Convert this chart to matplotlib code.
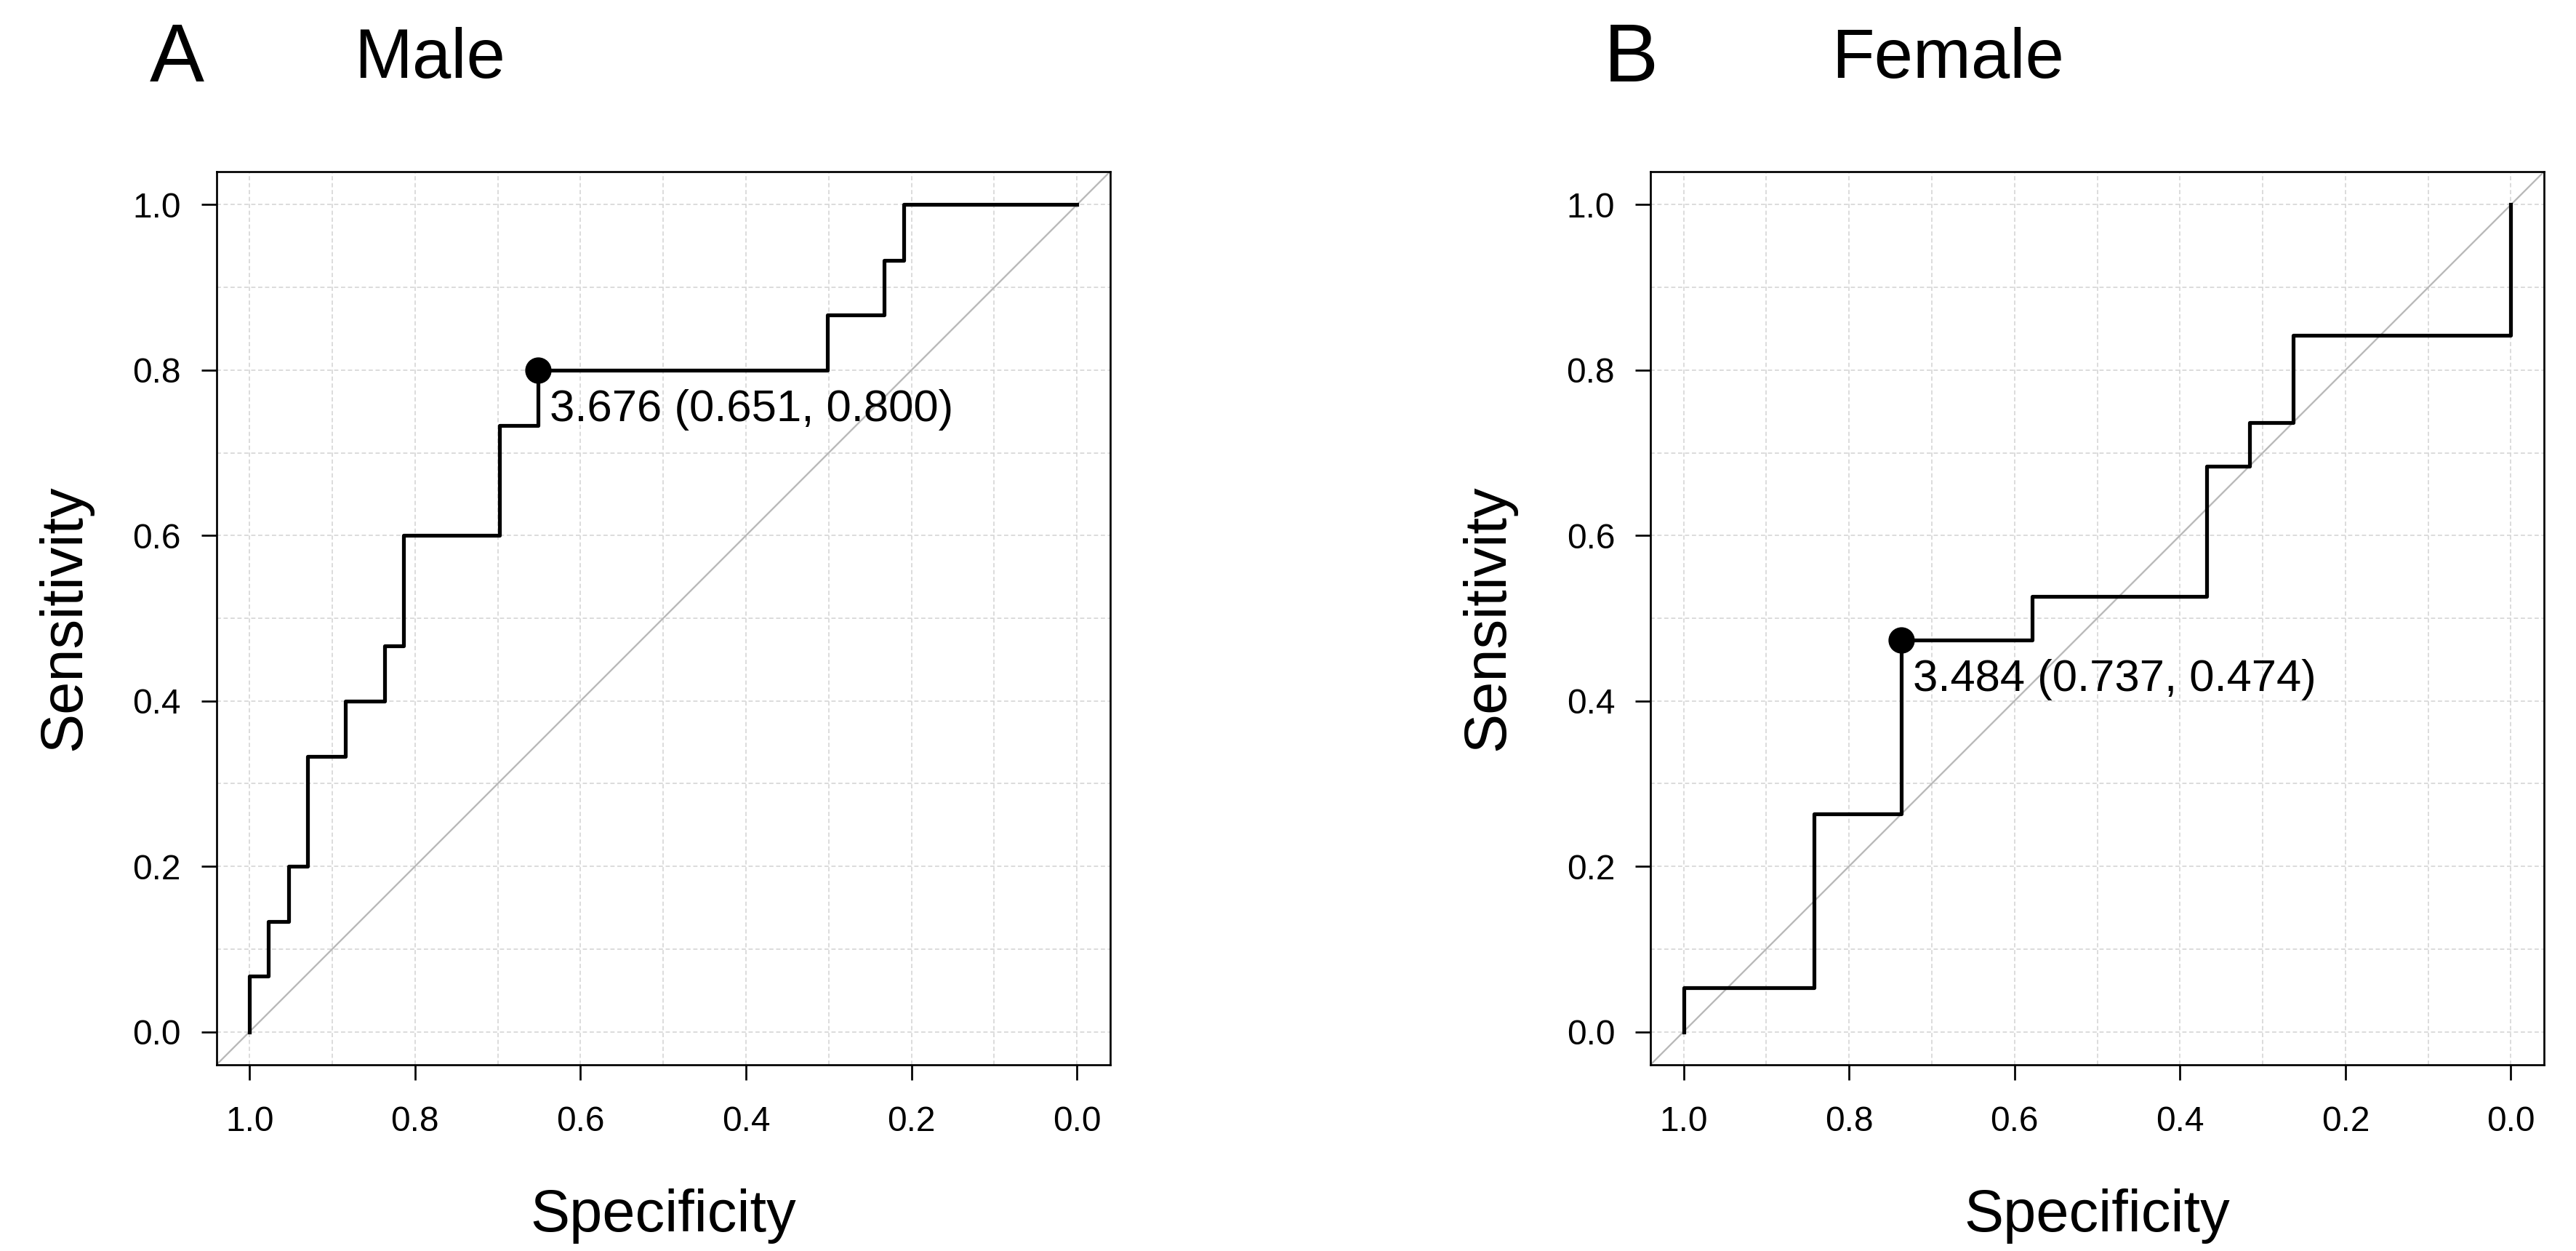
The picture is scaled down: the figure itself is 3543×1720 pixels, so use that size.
import numpy as np
import matplotlib.pyplot as plt

plt.rcParams['font.family'] = ['Liberation Sans', 'DejaVu Sans']

# ROC corners (specificity, sensitivity)
male_spec = [1.0, 1.0, 0.977, 0.953, 0.930, 0.884, 0.837, 0.814, 0.698, 0.651, 0.302, 0.233, 0.209, 0.0]
male_sens = [0.0, 0.067, 0.133, 0.200, 0.333, 0.400, 0.467, 0.600, 0.733, 0.800, 0.867, 0.933, 1.0, 1.0]
male_best = (3.676, 0.651, 0.800)

female_spec = [1.0, 1.0, 0.842, 0.737, 0.579, 0.368, 0.316, 0.263, 0.0]
female_sens = [0.0, 0.053, 0.263, 0.474, 0.526, 0.684, 0.737, 0.842, 1.0]
female_best = (3.484, 0.737, 0.474)

panels = ['A', 'B']
titles = ['Male', 'Female']

W, H = 3543, 1720
fig = plt.figure(figsize=(W / 300, H / 300), dpi=300)

ax_left = [297.7, 2270]
ax_w, ax_h, ax_bottom = 1229, 1228, 1464
letter_x = [206, 2206]
title_x = [487, 2519]
ylab_x = [110, 2068]

data = [(male_spec, male_sens, male_best), (female_spec, female_sens, female_best)]

for i, (spec, sens, best) in enumerate(data):
    ax = fig.add_axes([ax_left[i] / W, (H - ax_bottom) / H, ax_w / W, ax_h / H])

    # grid every 0.1
    ax.set_xticks(np.arange(0, 1.01, 0.1), minor=True)
    ax.set_yticks(np.arange(0, 1.01, 0.1), minor=True)
    ax.grid(which='both', color='#d6d6d6', lw=0.4, linestyle=(0, (3.5, 2.2)))
    ax.tick_params(which='minor', length=0)
    ax.set_axisbelow(True)

    ax.axline((0, 1), slope=-1, color='#b8b8b8', lw=0.55, zorder=1)
    ax.step(spec, sens, where='post', color='black', lw=1.25, zorder=3)

    thr, sp, se = best
    ax.plot(sp, se, 'o', color='black', ms=7.7, zorder=4)
    ax.annotate('%.3f (%.3f, %.3f)' % (thr, sp, se), (sp, se),
                xytext=(3.8, -16.9), textcoords='offset points',
                ha='left', va='baseline', fontsize=14.8)

    ax.set_xlim(1.04, -0.04)
    ax.set_ylim(-0.04, 1.04)
    ticks = np.arange(0, 1.01, 0.2)
    ax.set_xticks(ticks)
    ax.set_yticks(ticks)
    ax.set_xticklabels(['%.1f' % t for t in ticks])
    ax.set_yticklabels(['%.1f' % t for t in ticks])
    ax.tick_params(which='major', direction='out', length=5, width=0.65,
                   labelsize=11.5, color='black')
    ax.tick_params(axis='x', pad=8.4)
    ax.tick_params(axis='y', pad=6.7)
    for s in ax.spines.values():
        s.set_linewidth(0.65)

    cx = (ax_left[i] + ax_w / 2) / W
    fig.text(cx, 27 / H, 'Specificity', ha='center', va='baseline', fontsize=19.5)
    fig.text(ylab_x[i] / W, (H - 849) / H, 'Sensitivity', ha='center', va='baseline',
             rotation=90, rotation_mode='anchor', fontsize=19.5)

    fig.text(letter_x[i] / W, (H - 112) / H, panels[i], ha='left', va='baseline', fontsize=27)
    fig.text(title_x[i] / W, (H - 107) / H, titles[i], ha='left', va='baseline', fontsize=23)

plt.savefig('out.png', dpi=300)
